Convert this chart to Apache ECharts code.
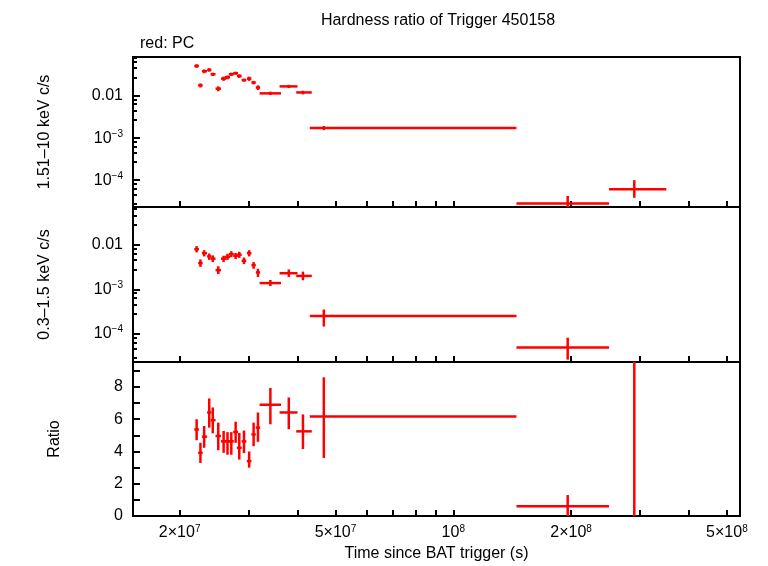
<!DOCTYPE html>
<html>
<head>
<meta charset="utf-8">
<script src="https://cdn.jsdelivr.net/npm/echarts@6/dist/echarts.min.js"></script>
<style>html,body{margin:0;background:#fff}#chart{width:768px;height:566px}</style>
</head>
<body>
<div id="chart"></div>
<script>
// time bins (s): centre, start, end
const tMid = [2.21e7,2.26e7,2.31e7,2.38e7,2.43e7,2.51e7,2.59e7,2.65e7,2.71e7,2.78e7,2.84e7,2.92e7,3.01e7,3.09e7,3.17e7,3.41e7,3.8e7,4.13e7,4.67e7,1.96e8,2.9e8];
const tLo  = [2.18e7,2.23e7,2.28e7,2.35e7,2.40e7,2.47e7,2.55e7,2.61e7,2.67e7,2.74e7,2.80e7,2.88e7,2.97e7,3.05e7,3.13e7,3.2e7,3.6e7,3.97e7,4.3e7,1.45e8,2.5e8];
const tHi  = [2.24e7,2.29e7,2.35e7,2.41e7,2.47e7,2.55e7,2.63e7,2.69e7,2.75e7,2.82e7,2.88e7,2.96e7,3.05e7,3.13e7,3.21e7,3.63e7,4.0e7,4.35e7,1.45e8,2.5e8,3.5e8];

// 1.51-10 keV rate (c/s)
const hard    = [0.052,0.018,0.039,0.042,0.033,0.015,0.026,0.028,0.033,0.035,0.030,0.024,0.026,0.021,0.016,0.0116,0.017,0.0122,0.00175,2.8e-5,6.1e-5];
const hardLo  = [0.047,0.016,0.035,0.038,0.030,0.013,0.023,0.025,0.030,0.032,0.027,0.022,0.023,0.019,0.014,0.0106,0.0155,0.011,0.00155,2.2e-5,3.8e-5];
const hardHi  = [0.057,0.020,0.043,0.046,0.036,0.017,0.029,0.031,0.036,0.038,0.033,0.026,0.029,0.023,0.018,0.0127,0.0185,0.0134,0.00195,4.2e-5,1.0e-4];

// 0.3-1.5 keV rate (c/s)
const soft    = [0.0080,0.0039,0.0065,0.0055,0.0049,0.0027,0.0049,0.0054,0.0062,0.0057,0.0060,0.0044,0.0065,0.0035,0.0024,0.00138,0.0023,0.0020,2.5e-4,4.9e-5];
const softLo  = [0.0068,0.0032,0.0055,0.0046,0.0041,0.0022,0.0041,0.0046,0.0053,0.0048,0.0051,0.0037,0.0055,0.0029,0.0019,0.00118,0.0019,0.0016,1.45e-4,2.6e-5];
const softHi  = [0.0094,0.0047,0.0076,0.0064,0.0058,0.0033,0.0057,0.0063,0.0072,0.0066,0.0070,0.0052,0.0076,0.0041,0.0029,0.00162,0.0028,0.0025,3.5e-4,8.1e-5];

// hardness ratio
const ratio   = [5.37,3.92,4.92,6.42,5.94,4.96,4.63,4.63,4.63,5.21,4.23,4.63,3.4,5.06,5.48,6.9,6.42,5.25,6.17,0.6,12];
const ratioLo = [4.7,3.29,4.23,5.48,5.13,4.08,3.92,3.8,3.8,4.54,3.5,3.9,3.0,4.33,4.6,5.69,5.38,4.15,3.6,0,0];
const ratioHi = [6.0,4.54,5.58,7.29,6.73,5.79,5.27,5.2,5.2,5.85,5.15,5.3,4.0,5.79,6.42,7.94,7.35,6.3,8.6,1.3,20];

const xTicks = [2e7,3e7,4e7,5e7,6e7,7e7,8e7,9e7,1e8,2e8,3e8,4e8,5e8];
const xLabels = {2e7:'2×10{s|7}',5e7:'5×10{s|7}',1e8:'10{s|8}',2e8:'2×10{s|8}',5e8:'5×10{s|8}'};

const font = 'Liberation Sans';
const L = Math.log10;

function build(y, lo, hi) {
  return y.map((v, i) => [L(tMid[i]), L(tLo[i]), L(tHi[i]), v, lo[i], hi[i]]);
}

function renderCross(params, api) {
  const c = api.coord([api.value(0), api.value(3)]);
  const a = api.coord([api.value(1), api.value(3)]);
  const b = api.coord([api.value(2), api.value(3)]);
  const lo = api.coord([api.value(0), api.value(4)]);
  const hi = api.coord([api.value(0), api.value(5)]);
  const st = {stroke: '#ff0000', lineWidth: 2.5};
  return {
    type: 'group',
    children: [
      {type: 'line', shape: {x1: a[0], y1: c[1], x2: b[0], y2: c[1]}, style: st},
      {type: 'line', shape: {x1: c[0], y1: lo[1], x2: c[0], y2: hi[1]}, style: st}
    ]
  };
}

const grids = [
  {left: 133, right: 28, top: 57, height: 150},
  {left: 133, right: 28, top: 207, height: 155},
  {left: 133, right: 28, top: 362, height: 154}
].map(g => Object.assign(g, {show: true, borderColor: '#000', borderWidth: 2, backgroundColor: 'transparent'}));

const xAxes = [0, 1, 2].map(i => ({
  type: 'value', gridIndex: i, min: L(1.52e7), max: L(5.4e8),
  axisLine: {show: false}, splitLine: {show: false},
  axisTick: {show: true, inside: true, length: 6, customValues: xTicks.map(L), lineStyle: {color: '#000', width: 2}},
  axisLabel: {
    show: i === 2, customValues: Object.keys(xLabels).map(Number).map(L),
    fontFamily: font, fontSize: 16, color: '#000', margin: 8,
    formatter: v => {
      const k = Object.keys(xLabels).find(t => Math.abs(L(+t) - v) < 1e-6);
      return k ? xLabels[k] : '';
    },
    rich: {s: {fontSize: 10, verticalAlign: 'top', padding: [0, 0, 8, 0], fontFamily: font}}
  },
  name: i === 2 ? 'Time since BAT trigger (s)' : '', nameLocation: 'middle', nameGap: 30,
  nameTextStyle: {fontFamily: font, fontSize: 16, color: '#000'}
}));

function logLabel(v) {
  if (Math.abs(v - 0.01) < 1e-9) return '0.01';
  const e = Math.round(L(v));
  return '10{s|−' + (-e) + '}';
}

const yBase = {
  axisLine: {show: false}, splitLine: {show: false},
  axisTick: {inside: true, length: 7, lineStyle: {color: '#000', width: 2}},
  minorTick: {show: true, length: 4, lineStyle: {color: '#000', width: 2}},
  nameLocation: 'middle', nameGap: 80,
  nameTextStyle: {fontFamily: font, fontSize: 16, color: '#000'}
};
const yLabel = {
  fontFamily: font, fontSize: 16, color: '#000', margin: 10,
  rich: {s: {fontSize: 10, verticalAlign: 'top', padding: [0, 0, 8, 0], fontFamily: font}}
};

const yAxes = [
  Object.assign({}, yBase, {type: 'log', gridIndex: 0, min: 2.3e-5, max: 0.085, name: '1.51–10 keV c/s',
    axisLabel: Object.assign({}, yLabel, {formatter: logLabel, showMinLabel: false, showMaxLabel: false})}),
  Object.assign({}, yBase, {type: 'log', gridIndex: 1, min: 2.3e-5, max: 0.0715, name: '0.3–1.5 keV c/s',
    axisLabel: Object.assign({}, yLabel, {formatter: logLabel, showMinLabel: false, showMaxLabel: false})}),
  Object.assign({}, yBase, {type: 'value', gridIndex: 2, min: 0, max: 9.55, interval: 1, name: 'Ratio', nameGap: 70,
    minorTick: {show: false},
    axisLabel: Object.assign({}, yLabel, {formatter: v => (v % 2 === 0 ? String(v) : ''), showMaxLabel: false})})
];

const chart = echarts.init(document.getElementById('chart'));
chart.setOption({
  animation: false,
  backgroundColor: '#fff',
  title: [
    {text: 'Hardness ratio of Trigger 450158', left: 433, top: 8, textAlign: 'center',
      textStyle: {fontFamily: font, fontSize: 16, fontWeight: 'normal', color: '#000'}},
    {text: 'red: PC', left: 135, top: 31,
      textStyle: {fontFamily: font, fontSize: 16, fontWeight: 'normal', color: '#000'}}
  ],
  grid: grids,
  xAxis: xAxes,
  yAxis: yAxes,
  series: [
    {type: 'custom', xAxisIndex: 0, yAxisIndex: 0, clip: true, renderItem: renderCross, data: build(hard, hardLo, hardHi)},
    {type: 'custom', xAxisIndex: 1, yAxisIndex: 1, clip: true, renderItem: renderCross, data: build(soft, softLo, softHi)},
    {type: 'custom', xAxisIndex: 2, yAxisIndex: 2, clip: true, renderItem: renderCross, data: build(ratio, ratioLo, ratioHi)}
  ]
});
</script>
</body>
</html>
